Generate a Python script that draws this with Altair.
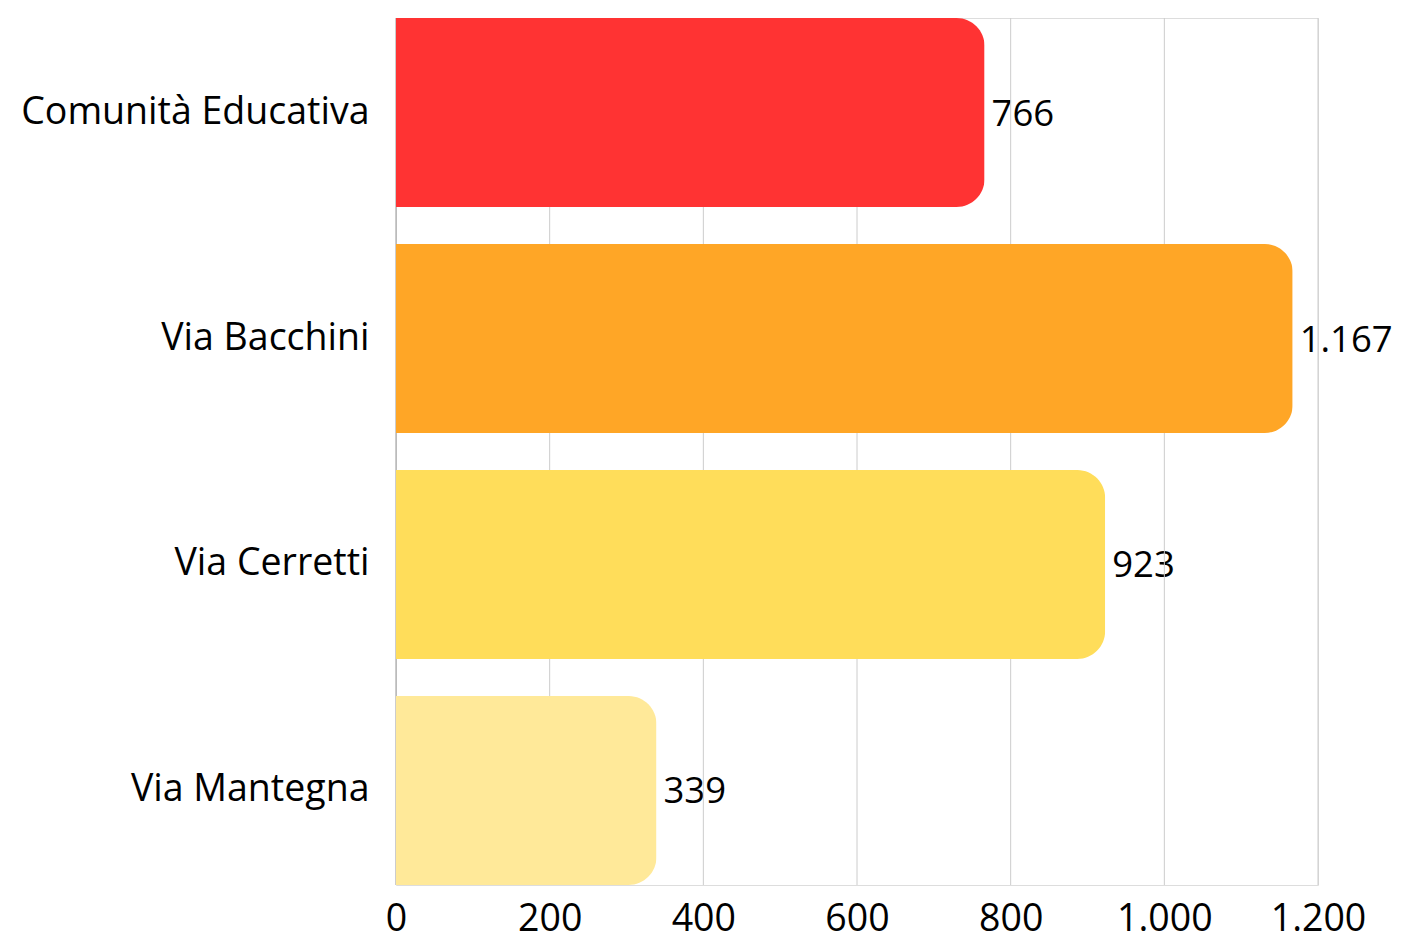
import altair as alt
import pandas as pd

categories = ["Comunità Educativa", "Via Bacchini", "Via Cerretti", "Via Mantegna"]
values = [766, 1167, 923, 339]
colors = ["#FF3333", "#FFA626", "#FFDD5A", "#FFE999"]
x_ticks = [0, 200, 400, 600, 800, 1000, 1200]

df = pd.DataFrame({"cat": categories, "v": values, "col": colors})
df_ticks = pd.DataFrame({"t": x_ticks})

FONT = "Open Sans"
FS = 37.5
FS_VAL = 36.5


def make_x(field):
    return alt.X(
        f"{field}:Q",
        title=None,
        scale=alt.Scale(domain=[0, 1200], nice=False),
        axis=alt.Axis(
            values=x_ticks,
            labelExpr="replace(format(datum.value, ','), ',', '.')",
            domain=False,
            ticks=False,
            grid=False,
            labelFont=FONT,
            labelFontSize=FS,
            labelColor="#000000",
            labelPadding=15,
            labelFlush=False,
        ),
    )


y_enc = alt.Y(
    "cat:N",
    sort=categories,
    title=None,
    scale=alt.Scale(paddingInner=0.1637, paddingOuter=0),
    axis=alt.Axis(
        ticks=False,
        domain=False,
        labelFont=FONT,
        labelFontSize=FS,
        labelColor="#000000",
        labelPadding=27,
        labelLimit=600,
        grid=False,
    ),
)

base = alt.Chart(df).transform_calculate(
    lbl="replace(format(datum.v, ','), ',', '.')"
)

text = base.mark_text(
    align="left", baseline="middle", dx=7, dy=2, font=FONT, fontSize=FS_VAL, color="#000000"
).encode(
    x=make_x("v"),
    y=y_enc,
    text="lbl:N",
)

grid = alt.Chart(df_ticks).mark_rule(strokeWidth=1).encode(
    x=make_x("t"),
    color=alt.condition("datum.t == 0", alt.value("#999999"), alt.value("#cccccc")),
)

bars = base.mark_bar(cornerRadiusEnd=28).encode(
    x=make_x("v"),
    y=y_enc,
    color=alt.Color("col:N", scale=None, legend=None),
)

chart = (
    alt.layer(text, grid, bars)
    .properties(width=922, height=867, padding={"top": 9, "left": 12, "right": -1.5, "bottom": 5})
    .configure_view(strokeWidth=0, stroke=None, fill=None)
    .configure_axis(domain=False, grid=False)
    .configure(background="#ffffff")
)

chart.save("out.html", embed_options={"renderer": "svg", "actions": False})
